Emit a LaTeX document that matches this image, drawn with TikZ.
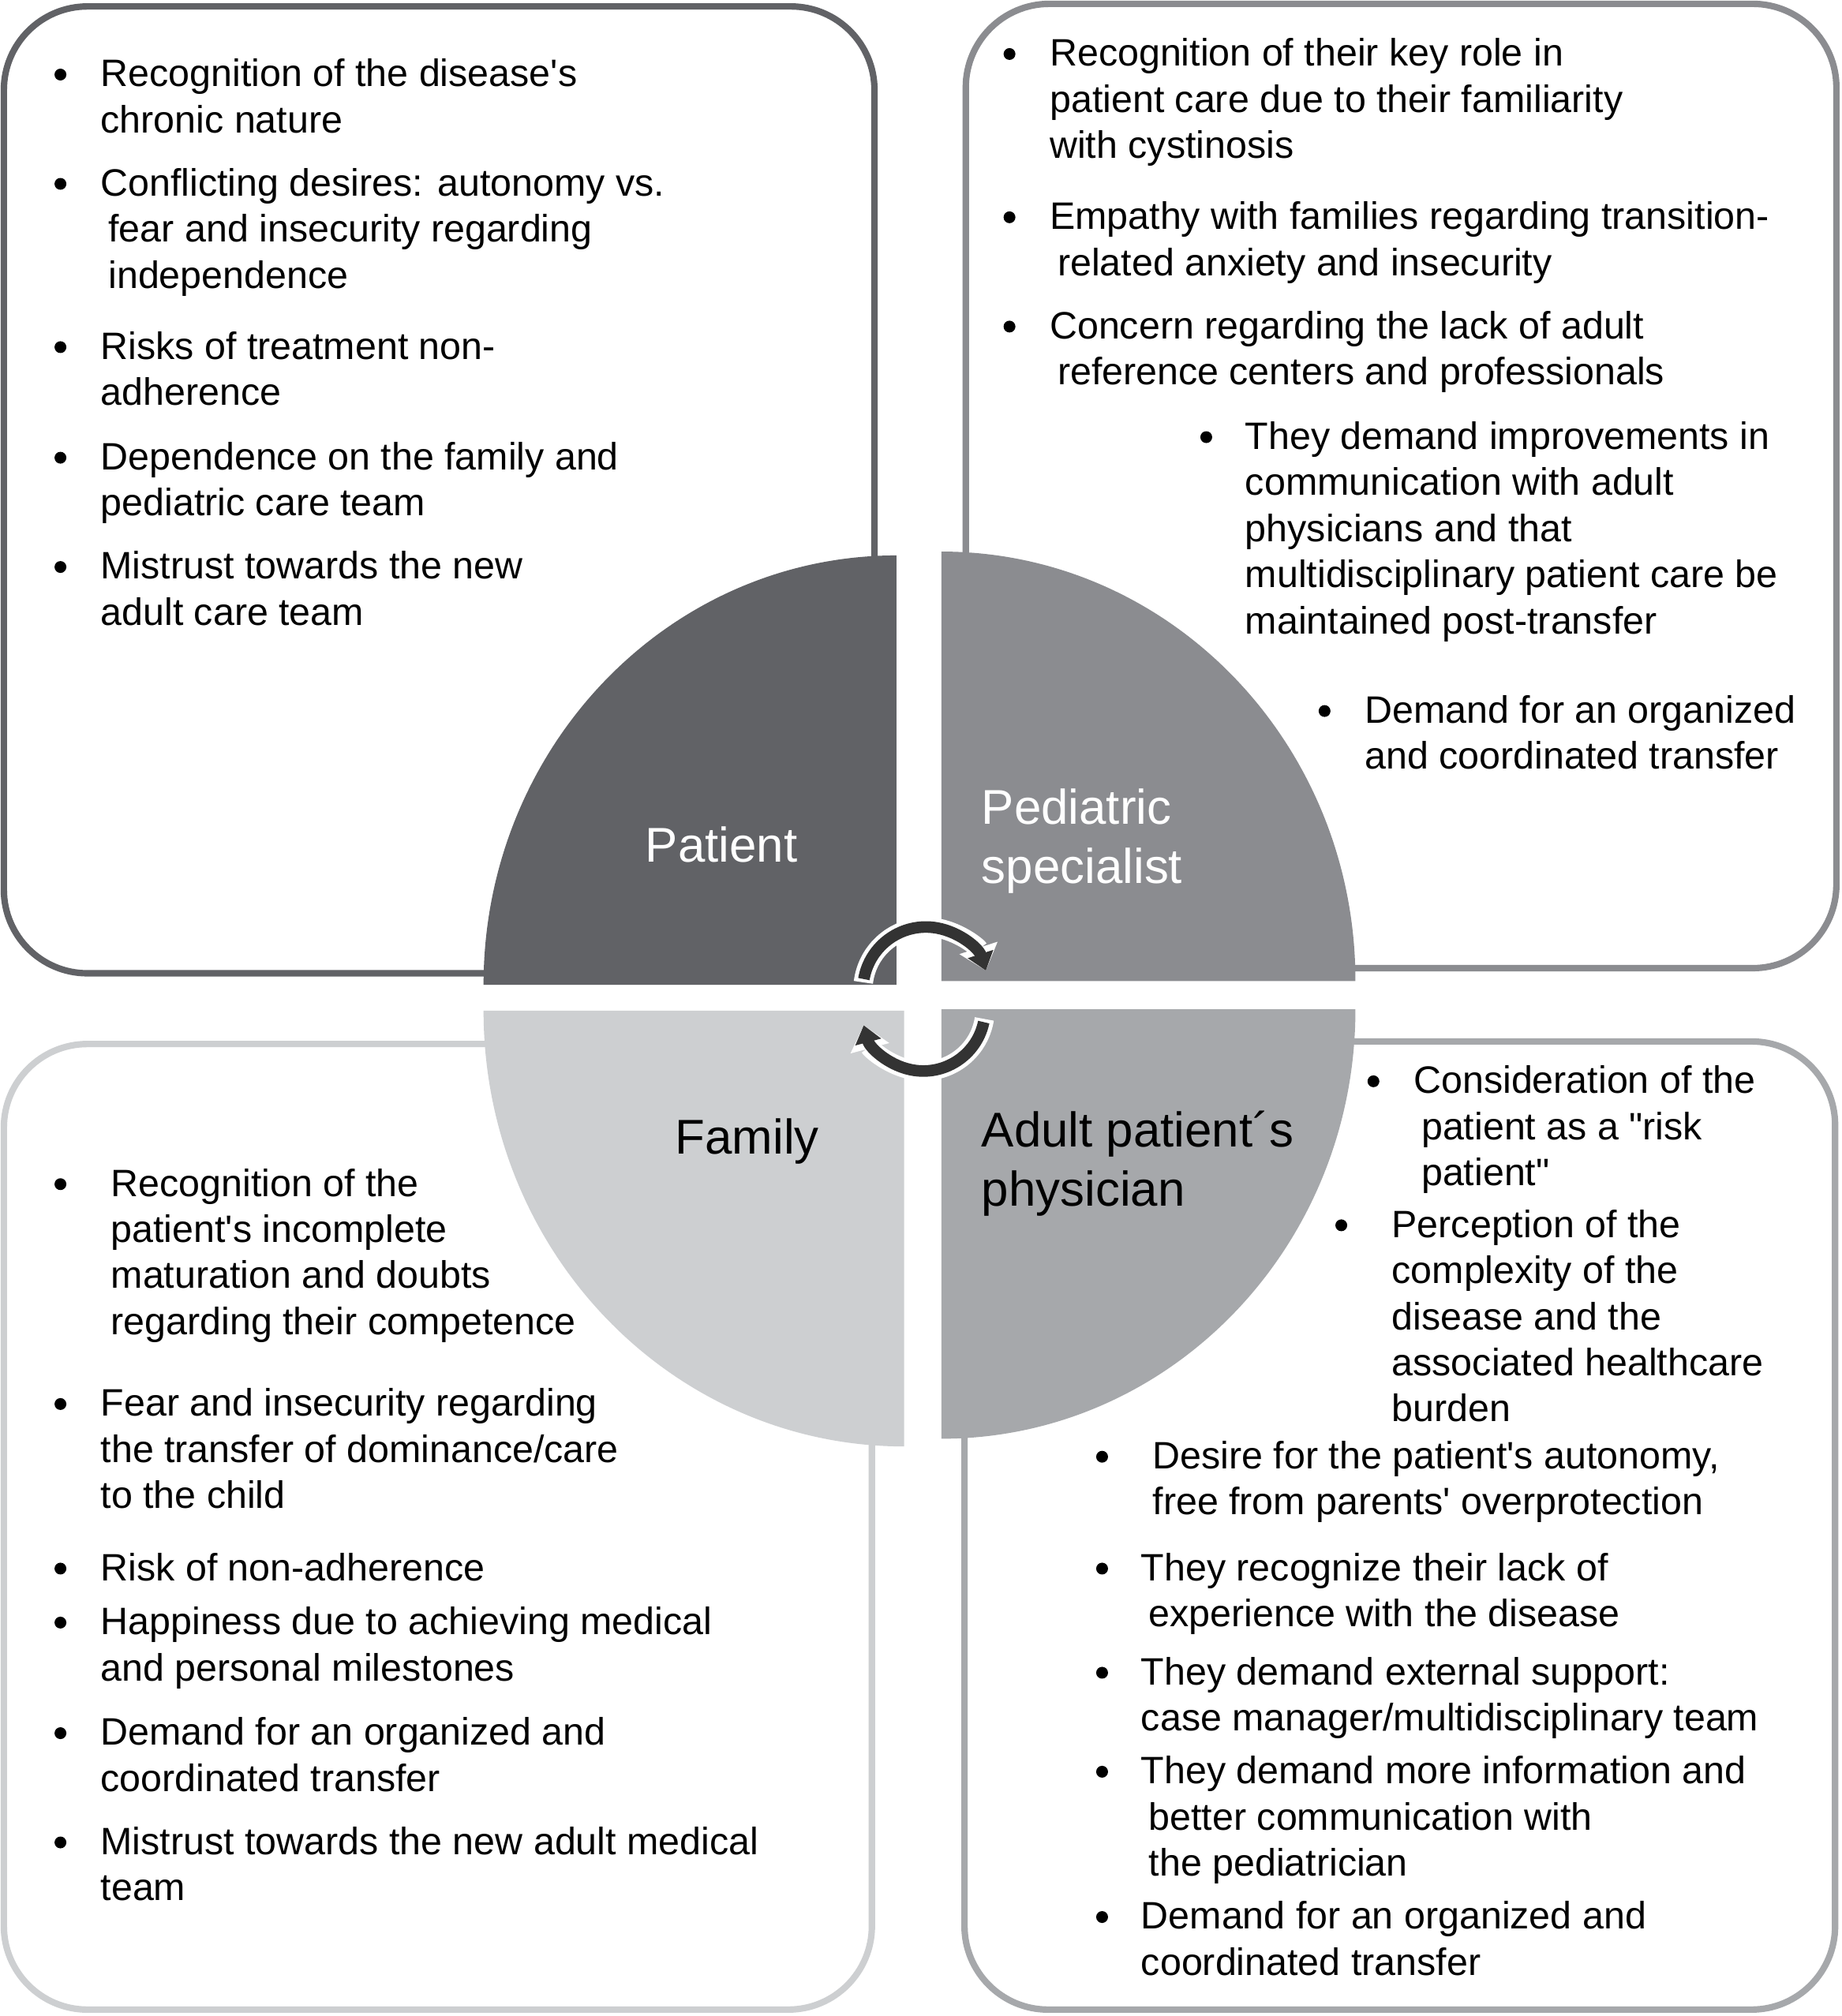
\documentclass[tikz,border=0pt]{standalone}
\usepackage{fontspec}
\setmainfont{Liberation Sans}[Ligatures=TeXOff]
\usetikzlibrary{arrows.meta}

\definecolor{patientgray}{HTML}{616266}
\definecolor{pediatricgray}{HTML}{8B8C90}
\definecolor{familygray}{HTML}{CDCFD1}
\definecolor{adultgray}{HTML}{A6A8AB}
\definecolor{arrowdark}{HTML}{333333}

\tikzset{
  box/.style={line width=0.1cm, rounded corners=1.3cm, fill=white},
  item/.style={anchor=north west, inner sep=0pt, align=left,
    font=\fontsize{16.9pt}{20.4pt}\selectfont},
  role/.style={inner sep=0pt, align=left,
    font=\fontsize{21.6pt}{26.2pt}\selectfont},
  cyclearrow/.style={line width=0.18cm, arrowdark,
    -{Triangle[width=0.4cm,length=0.27cm]}},
  cycleback/.style={line width=0.3cm, white,
    -{Triangle[width=0.6cm,length=0.37cm]}}
}

% bullet item: name, bullet x, text x, first line y, text
\newcommand\bitem[5]{%
  \fill (#2,#4) circle[radius=4.6];
  \node[item] (#1) at (#3,#4-16) {\strut#5};
}
\newcommand\itemshift{\hspace*{0.12cm}}

\begin{document}
\begin{tikzpicture}[x=0.02cm, y=-0.02cm, line cap=butt]

  \useasboundingbox (0,0) rectangle (1432,1568);

  % Outer boxes
  \draw[box, draw=patientgray]   (3,5)     rectangle (680,757);
  \draw[box, draw=pediatricgray] (751,3)   rectangle (1428,753);
  \draw[box, draw=familygray]    (3,812)   rectangle (678,1563);
  \draw[box, draw=adultgray]     (750,810) rectangle (1427,1563);

  % Quadrants
  \fill[patientgray] (697,766) -- (376,766)
    arc[start angle=180, end angle=270, x radius=321, y radius=334] -- cycle;
  \fill[pediatricgray] (732,763) -- (1054,763)
    arc[start angle=0, end angle=-90, x radius=322, y radius=334] -- cycle;
  \fill[familygray] (703,786) -- (376,786)
    arc[start angle=180, end angle=90, x radius=327, y radius=339] -- cycle;
  \fill[adultgray] (732,785) -- (1054,785)
    arc[start angle=0, end angle=90, x radius=322, y radius=334] -- cycle;

  % Quadrant labels
  \node[role, text=white] (patient) at (561,657) {Patient};
  \node[role, text=white, anchor=west] (pediatric) at (763,654) {Pediatric\\specialist};
  \node[role] (family) at (581,888) {Family};
  \node[role, anchor=west] (adult) at (763,905) {Adult patient´s\\physician};

  % Cycle arrows
  \draw[cycleback] (720,770) ++(187:49) arc[start angle=187, end angle=342, radius=49];
  \draw[cyclearrow] (720,770) ++(190:49) arc[start angle=190, end angle=342, radius=49];
  \draw[cycleback] (718,785) ++(9:48) arc[start angle=9, end angle=165, radius=48];
  \draw[cyclearrow] (718,785) ++(12:48) arc[start angle=12, end angle=165, radius=48];

  % Patient
  \bitem{pat1}{47}{78}{58}{Recognition of the disease's\\chronic nature}
  \bitem{pat2}{47}{78}{143}{Conflicting desires: autonomy vs.\\\itemshift fear and insecurity regarding\\\itemshift independence}
  \bitem{pat3}{47}{78}{270}{Risks of treatment non-\\adherence}
  \bitem{pat4}{47}{78}{356}{Dependence on the family and\\pediatric care team}
  \bitem{pat5}{47}{78}{441}{Mistrust towards the new\\adult care team}

  % Pediatric specialist
  \bitem{ped1}{785}{816}{42}{Recognition of their key role in\\patient care due to their familiarity\\with cystinosis}
  \bitem{ped2}{785}{816}{169}{Empathy with families regarding transition-\\\itemshift related anxiety and insecurity}
  \bitem{ped3}{785}{816}{254}{Concern regarding the lack of adult\\\itemshift reference centers and professionals}
  \bitem{ped4}{938}{968}{340}{They demand improvements in\\communication with adult\\physicians and that\\multidisciplinary patient care be\\maintained post-transfer}
  \bitem{ped5}{1030}{1061}{553}{Demand for an organized\\and coordinated transfer}

  % Family
  \bitem{fam1}{47}{86}{921}{Recognition of the\\patient's incomplete\\maturation and doubts\\regarding their competence}
  \bitem{fam2}{47}{78}{1092}{Fear and insecurity regarding\\the transfer of dominance/care\\to the child}
  \bitem{fam3}{47}{78}{1220}{Risk of non-adherence}
  \bitem{fam4}{47}{78}{1262}{Happiness due to achieving medical\\and personal milestones}
  \bitem{fam5}{47}{78}{1348}{Demand for an organized and\\coordinated transfer}
  \bitem{fam6}{47}{78}{1433}{Mistrust towards the new adult medical\\team}

  % Adult patient's physician
  \bitem{adu1}{1068}{1099}{841}{Consideration of the\\\itemshift patient as a "risk\\\itemshift patient"}
  \bitem{adu2}{1043}{1082}{953}{Perception of the\\complexity of the\\disease and the\\associated healthcare\\burden}
  \bitem{adu3}{857}{896}{1133}{Desire for the patient's autonomy,\\free from parents' overprotection}
  \bitem{adu4}{857}{887}{1220}{They recognize their lack of\\\itemshift experience with the disease}
  \bitem{adu5}{857}{887}{1301}{They demand external support:\\case manager/multidisciplinary team}
  \bitem{adu6}{857}{887}{1378}{They demand more information and\\\itemshift better communication with\\\itemshift the pediatrician}
  \bitem{adu7}{857}{887}{1491}{Demand for an organized and\\coordinated transfer}

\end{tikzpicture}
\end{document}
